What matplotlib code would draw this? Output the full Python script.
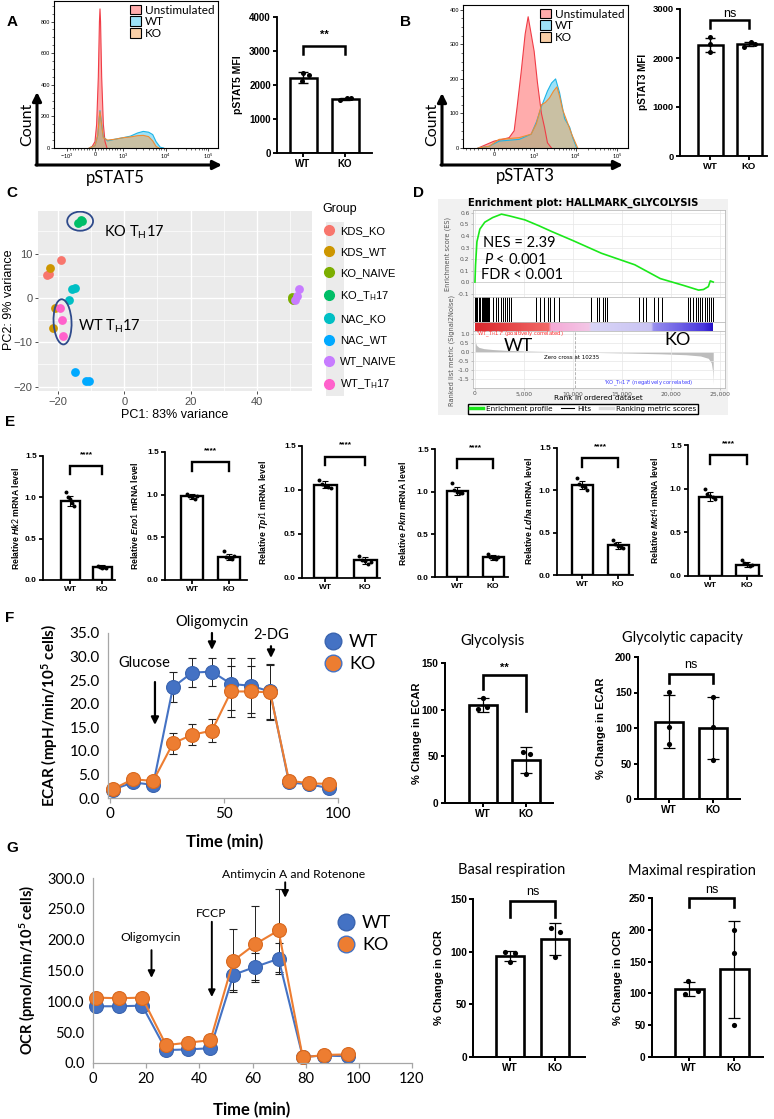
import numpy as np
import matplotlib
matplotlib.use("Agg")
import matplotlib.pyplot as plt
from matplotlib import ticker, font_manager
from matplotlib.colors import to_rgba, LinearSegmentedColormap
from matplotlib.patches import Patch, Ellipse, Rectangle, FancyArrowPatch
from matplotlib.lines import Line2D

W, H = 774, 1119

plt.rcParams["font.family"] = ["Liberation Sans", "DejaVu Sans"]
plt.rcParams["mathtext.fontset"] = "custom"
plt.rcParams["mathtext.rm"] = "Lato"
plt.rcParams["mathtext.bf"] = "Lato:bold"
plt.rcParams["mathtext.it"] = "Liberation Sans:italic:bold"
plt.rcParams["mathtext.sf"] = "Lato:italic"

_names = {f.name for f in font_manager.fontManager.ttflist}
NARROW = "Liberation Sans Narrow" if "Liberation Sans Narrow" in _names else "Liberation Sans"

# ---------------------------------------------------------------------------
# Data
# ---------------------------------------------------------------------------
# A: pSTAT5 flow histograms (fluorescence, count)
a_unstim_x = [-200, -100, 0, 60, 120, 160, 180, 200, 240, 300, 360, 430]
a_unstim_y = [0, 10, 40, 150, 450, 800, 880, 800, 450, 150, 40, 0]
a_wt_x = [-200, 0, 100, 150, 180, 220, 300, 450, 700, 1000, 1500, 2200, 3000, 4000, 5000, 6000, 7500, 9000]
a_wt_y = [0, 15, 80, 190, 237, 180, 70, 45, 55, 65, 75, 95, 105, 100, 85, 40, 5, 0]
a_ko_x = [-200, 0, 100, 150, 180, 220, 300, 450, 700, 1000, 1500, 2200, 3000, 4000, 5000, 6000, 7000]
a_ko_y = [0, 15, 80, 190, 230, 170, 65, 50, 55, 65, 70, 78, 80, 72, 45, 10, 0]

# B: pSTAT3 flow histograms
b_unstim_x = [-400, -200, 0, 200, 375, 500, 575, 675, 775, 850, 925, 1000, 1200, 1500, 1780, 2100, 2630]
b_unstim_y = [0, 10, 20, 25, 30, 50, 120, 220, 330, 380, 330, 280, 190, 100, 60, 15, 0]
b_wt_x = [-400, -125, 125, 625, 925, 1130, 1500, 2100, 2630, 3300, 4120, 5460, 7230, 8550, 10700]
b_wt_y = [0, 5, 20, 25, 40, 75, 120, 165, 188, 200, 160, 85, 60, 30, 0]
b_ko_x = [-400, -125, 125, 625, 925, 1130, 1500, 1870, 2350, 2950, 3550, 4120, 4900, 6110, 8090, 11300]
b_ko_y = [0, 5, 25, 30, 40, 70, 125, 132, 145, 165, 177, 150, 110, 80, 40, 0]

groups = ["WT", "KO"]

# A / B bar charts (MFI)
a_mean = [2220, 1590]
a_sd = [150, 30]
a_pts = [[2340, 2300, 2110], [1570, 1615, 1620]]
b_mean = [2265, 2280]
b_sd = [150, 45]
b_pts = [[2420, 2280, 2120], [2230, 2320, 2290]]

# C: PCA
pca_groups = ["KDS_KO", "KDS_WT", "KO_NAIVE", "KO_T$_{\\mathrm{H}}$17", "NAC_KO", "NAC_WT", "WT_NAIVE", "WT_T$_{\\mathrm{H}}$17"]
pca_colors = ["#F8766D", "#CD9600", "#7CAE00", "#00BE67", "#00BFC4", "#00A9FF", "#C77CFF", "#FF61CC"]
pca_pc1 = [[-19.0, -23.3, -22.6], [-22.3, -20.8, -21.4], [50.6, 50.9, 50.5], [-13.8, -12.6, -13.1],
           [-15.7, -14.8, -16.6], [-14.8, -11.5, -10.6], [52.6, 51.6, 52.0], [-19.3, -18.7, -18.4]]
pca_pc2 = [[8.5, 5.2, 5.5], [6.7, -2.3, -6.8], [0.2, -0.5, -0.2], [17.0, 17.3, 17.6],
           [2.0, 2.2, -0.4], [-16.7, -18.7, -18.8], [2.0, -0.5, 0.5], [-2.3, -4.9, -8.6]]

# D: GSEA HALLMARK_GLYCOLYSIS
es_rank = [0, 60, 200, 500, 1000, 1800, 2700, 3500, 5100, 6500, 7800, 10000, 12900, 16300,
           18900, 21300, 22800, 23300, 23600, 23800, 24000, 24300]
es_val = [0, 0.15, 0.35, 0.46, 0.52, 0.56, 0.59, 0.575, 0.54, 0.49, 0.44, 0.36, 0.25, 0.15,
          0.03, -0.03, -0.07, -0.065, -0.05, -0.04, 0.01, 0.0]
hit_ranks = [20, 60, 110, 150, 210, 260, 330, 400, 470, 540, 610, 700, 790, 880, 960, 1050, 1150,
             1260, 1380, 1500, 1620, 1750, 1900, 2050, 2200, 2380, 2550, 2700, 2900, 3100, 3300,
             3500, 3750, 4000, 4300, 4600, 4900, 5300, 5600, 6000, 6300, 6700, 7100, 7500, 7700,
             8100, 8600, 9000, 9400, 9600, 10200, 10500, 11200, 11900, 12500, 12700, 13100, 13300,
             13500, 14200, 14800, 15300, 16100, 16400, 16800, 17200, 17500, 18300, 18700, 19100,
             19400, 20300, 20600, 20900, 21300, 21500, 21800, 22000, 22300, 22600, 22800, 23000,
             23200, 23500, 23700, 23900, 24100, 24300]
metric_rank = [0, 40, 150, 400, 900, 1800, 3000, 5000, 7500, 10235, 13000, 16000, 19000, 21500,
               23000, 23800, 24100, 24250, 24300]
metric_val = [1.0, 0.6, 0.38, 0.26, 0.19, 0.14, 0.1, 0.06, 0.03, 0.0, -0.03, -0.06, -0.1, -0.15,
              -0.22, -0.35, -0.6, -1.1, -1.8]
zero_cross = 10235
n_genes = 24300

# E: qPCR
e_genes = ["Hk2", "Eno1", "Tpi1", "Pkm", "Ldha", "Mct4"]
e_wt_mean = [0.96, 0.98, 1.06, 1.01, 1.06, 0.91]
e_ko_mean = [0.16, 0.27, 0.20, 0.23, 0.35, 0.13]
e_wt_sd = [0.06, 0.03, 0.04, 0.05, 0.05, 0.05]
e_ko_sd = [0.02, 0.03, 0.04, 0.03, 0.04, 0.03]
e_wt_pts = [[1.06, 1.00, 0.98, 0.93, 0.90], [1.01, 0.99, 0.97, 0.95, 0.98],
            [1.11, 1.07, 1.05, 1.03, 1.02], [1.10, 1.02, 1.00, 0.99, 0.98],
            [1.14, 1.07, 1.05, 1.04, 1.00], [1.00, 0.94, 0.92, 0.90, 0.88]]
e_ko_pts = [[0.17, 0.16, 0.15, 0.16, 0.15], [0.34, 0.27, 0.26, 0.25, 0.28],
            [0.25, 0.21, 0.19, 0.16, 0.18], [0.27, 0.24, 0.22, 0.21, 0.23],
            [0.41, 0.37, 0.34, 0.33, 0.32], [0.18, 0.15, 0.14, 0.12, 0.13]]

# F: ECAR time course
f_time = [1.3, 10.1, 18.9, 27.6, 36.0, 44.7, 53.1, 61.8, 70.2, 78.5, 87.3, 96.1]
f_wt = [1.8, 3.3, 2.8, 23.5, 26.6, 26.8, 24.2, 23.8, 22.6, 3.3, 2.9, 2.1]
f_wt_err = [0.2, 0.3, 0.3, 3.2, 3.0, 3.0, 5.6, 5.8, 5.8, 0.3, 0.3, 0.3]
f_ko = [1.9, 4.0, 3.6, 11.6, 13.4, 14.3, 22.6, 22.6, 22.4, 3.7, 3.1, 3.0]
f_ko_err = [0.2, 0.3, 0.3, 2.2, 2.2, 2.5, 5.5, 5.4, 5.8, 0.3, 0.3, 0.3]

glyc_mean = [105, 46]
glyc_sd = [7.5, 14]
glyc_pts = [[113, 101, 103], [55, 53, 31]]
gcap_mean = [109, 100]
gcap_sd = [37, 44]
gcap_pts = [[151, 101, 77], [143, 101, 55]]

# G: OCR time course
g_time = [1.1, 9.8, 18.5, 27.5, 35.8, 44.2, 52.8, 61.1, 69.8, 78.9, 86.8, 95.8]
g_wt = [92, 92, 93, 21, 22, 24, 143, 156, 169, 10, 12, 11]
g_wt_err = [3, 3, 3, 2, 2, 2, 25, 22, 25, 2, 2, 2]
g_ko = [106, 105, 106, 29, 33, 37, 166, 193, 215, 9, 13, 14]
g_ko_err = [3, 3, 3, 2, 2, 2, 51, 61, 67, 2, 2, 2]

basal_mean = [96, 112]
basal_sd = [5, 15]
basal_pts = [[100, 98.5, 90.5], [122, 119, 95]]
maxr_mean = [107, 138]
maxr_sd = [11, 76]
maxr_pts = [[120, 99, 103], [200, 163, 50]]

WT_BLUE = "#4472C4"
KO_ORANGE = "#ED7D31"

# ---------------------------------------------------------------------------
# Helpers (positions in pixels of the 774x1119 canvas, y from top)
# ---------------------------------------------------------------------------
fig = plt.figure(figsize=(W / 100, H / 100), dpi=100)


def axes_px(x0, y0, x1, y1):
    return fig.add_axes([x0 / W, 1 - y1 / H, (x1 - x0) / W, (y1 - y0) / H])


def ftext(x, y, s, **kw):
    kw.setdefault("ha", "center")
    kw.setdefault("va", "center")
    return fig.text(x / W, 1 - y / H, s, **kw)


def farrow(x0, y0, x1, y1, lw=2.2, ms=13):
    fig.add_artist(FancyArrowPatch((x0 / W, 1 - y0 / H), (x1 / W, 1 - y1 / H),
                                   transform=fig.transFigure, arrowstyle="-|>",
                                   mutation_scale=ms, lw=lw, color="black",
                                   shrinkA=0, shrinkB=0))


# minor tick marks of the flow axes (linear part around 0 and log decades)
flow_minor = ([-s * 100 for s in range(1, 10)] + [s * 100 for s in range(1, 10)]
              + [s * 1000 for s in range(2, 10)] + [s * 10000 for s in range(2, 10)])


def hist_panel(box, series, linscale, xlim, xticks, xlabels, ymax, yticks, yminor):
    ax = axes_px(*box)
    ax.set_xscale("symlog", linthresh=1000, linscale=linscale)
    handles = []
    for xs, ys, fc, ec, lab in series:
        ax.fill(list(xs) + [xs[-1], xs[0]], list(ys) + [0, 0], facecolor=to_rgba(fc, 0.5),
                edgecolor="none")
        ax.plot(xs, ys, color=ec, lw=0.8)
        handles.append(Patch(facecolor=to_rgba(fc, 0.5), edgecolor="black", lw=0.8, label=lab))
    ax.set_xlim(*xlim)
    ax.set_ylim(0, ymax)
    ax.set_xticks(xticks, xlabels)
    ax.xaxis.set_minor_locator(ticker.FixedLocator(flow_minor))
    ax.set_yticks(yticks)
    ax.yaxis.set_minor_locator(ticker.MultipleLocator(yminor))
    ax.tick_params(labelsize=4, length=2, width=0.5, pad=1)
    ax.tick_params(which="minor", length=1.2, width=0.4)
    for s in ax.spines.values():
        s.set_linewidth(0.8)
    ax.legend(handles=handles, loc="upper right", frameon=False, prop={"family": "Lato", "size": 8.5},
              handlelength=0.9, handleheight=0.9, handletextpad=0.35, labelspacing=0.05,
              borderaxespad=0.1, borderpad=0.2)
    return ax


def bar_panel(box, means, sds, pts, offs, ymax, yticks, fmt, bracket, sig,
              tick_fs=7, bar_lw=1.8, sig_fs=8, sig_bold=True, cap=3.5, elw=1.0, dot=13):
    spine, top, end, zero, xw, xk, wpx = box
    ax = axes_px(spine, top, end, zero)
    unit = xk - xw
    ax.set_xlim((spine - xw) / unit, 1 + (end - xk) / unit)
    ax.set_ylim(0, ymax)
    ax.bar([0, 1], means, width=wpx / unit, color="white", edgecolor="black", linewidth=bar_lw, zorder=2)
    ax.errorbar([0, 1], means, yerr=sds, fmt="none", ecolor="black", elinewidth=elw,
                capsize=cap, capthick=elw, zorder=3)
    for i in range(2):
        ax.scatter(np.array(offs[i]) + i, pts[i], s=dot, color="black", zorder=4,
                   clip_on=False, linewidths=0)
    for s in ["top", "right"]:
        ax.spines[s].set_visible(False)
    for s in ["left", "bottom"]:
        ax.spines[s].set_linewidth(bar_lw * 0.75)
    ax.set_xticks([0, 1])
    ax.set_xticklabels(groups, fontweight="bold", fontsize=tick_fs)
    ax.set_yticks(yticks)
    ax.set_yticklabels([fmt.format(v) for v in yticks], fontweight="bold", fontsize=tick_fs)
    ax.tick_params(length=3, width=bar_lw * 0.75, pad=1.5)
    btop, lw_, lk, sy = bracket
    ax.plot([0, 0, 1, 1], [lw_, btop, btop, lk], color="black", lw=bar_lw, clip_on=False,
            solid_joinstyle="miter")
    ax.text(0.5, sy, sig, ha="center", va="center", fontsize=sig_fs,
            fontweight="bold" if sig_bold else "normal", clip_on=False)
    return ax


# ---------------------------------------------------------------------------
# Panel A
# ---------------------------------------------------------------------------
ftext(12, 22, "A", fontsize=11, fontweight="bold")
hist_panel((54, 1, 218, 148),
           [(a_unstim_x, a_unstim_y, "#FF5A5A", "#F03C46", "Unstimulated"),
            (a_wt_x, a_wt_y, "#3CC6F2", "#1EB4E6", "WT"),
            (a_ko_x, a_ko_y, "#F5A050", "#F08C32", "KO")],
           0.59, (-2020, 170000), [-1000, 0, 1000, 10000, 100000],
           ["$-10^3$", "0", "$10^3$", "$10^4$", "$10^5$"], 930, [0, 200, 400, 600, 800], 50)
ftext(27, 124, "Count", rotation=90, family="Lato", fontsize=11.5)
farrow(37, 165, 37, 92)
farrow(36, 165, 222, 165)
ftext(115, 178, "pSTAT5", family="Lato", fontsize=12)

bar_panel((277, 17, 372, 153, 303, 345, 27), a_mean, a_sd, a_pts,
          [[0.0, 0.15, -0.03], [-0.12, 0.05, 0.15]], 4000, [0, 1000, 2000, 3000, 4000], "{:.0f}",
          (3150, 2900, 2900, 3480), "**")
ftext(238, 85, "pSTAT5 MFI", rotation=90, fontweight="bold", fontsize=7.5)

# ---------------------------------------------------------------------------
# Panel B
# ---------------------------------------------------------------------------
ftext(405, 22, "B", fontsize=11, fontweight="bold")
hist_panel((463, 5, 628, 148),
           [(b_unstim_x, b_unstim_y, "#FF5A5A", "#F03C46", "Unstimulated"),
            (b_wt_x, b_wt_y, "#3CC6F2", "#1EB4E6", "WT"),
            (b_ko_x, b_ko_y, "#F5A050", "#F08C32", "KO")],
           0.87, (-780, 186000), [0, 1000, 10000, 100000],
           ["0", "$10^3$", "$10^4$", "$10^5$"], 414, [0, 100, 200, 300, 400], 25)
ftext(432, 124, "Count", rotation=90, family="Lato", fontsize=11.5)
farrow(442, 165, 442, 93)
farrow(441, 165, 623, 165)
ftext(525, 176, "pSTAT3", family="Lato", fontsize=12)

bar_panel((680, 9, 767, 156, 710, 749, 25), b_mean, b_sd, b_pts,
          [[0.0, 0.0, 0.0], [-0.12, 0.05, 0.15]], 3000, [0, 1000, 2000, 3000], "{:.0f}",
          (2780, 2620, 2620, 2900), "ns", tick_fs=6.8, sig_fs=9, sig_bold=False)
ftext(643, 82, "pSTAT3 MFI", rotation=90, fontweight="bold", fontsize=7.2)

# ---------------------------------------------------------------------------
# Panel C: PCA
# ---------------------------------------------------------------------------
ftext(12, 193, "C", fontsize=11, fontweight="bold")
axc = axes_px(38, 211, 312, 391)
axc.set_facecolor("#EBEBEB")
for xs, ys, col in zip(pca_pc1, pca_pc2, pca_colors):
    axc.scatter(xs, ys, s=40, color=col, linewidths=0, zorder=3)
axc.set_xlim(-26, 56.6)
axc.set_ylim(-21.0, 19.6)
axc.set_xticks([-20, 0, 20, 40])
axc.set_yticks([-20, -10, 0, 10])
axc.set_xticks([-10, 10, 30, 50], minor=True)
axc.set_yticks([-15, -5, 5, 15], minor=True)
axc.grid(which="major", color="white", lw=1.0, zorder=0)
axc.grid(which="minor", color="white", lw=0.5, zorder=0)
axc.set_axisbelow(True)
for s in axc.spines.values():
    s.set_visible(False)
axc.tick_params(labelsize=8, labelcolor="#4D4D4D", color="#333333", length=2.5, width=0.6, pad=1.5)
axc.tick_params(which="minor", length=0)
for lab in axc.get_xticklabels() + axc.get_yticklabels():
    lab.set_family(NARROW)
axc.add_patch(Ellipse((-13.3, 17.3), 7.8, 4.3, fill=False, edgecolor="#2E4A8B", lw=1.3, zorder=4))
axc.add_patch(Ellipse((-18.6, -5.4), 5.4, 10.2, angle=4, fill=False, edgecolor="#2E4A8B", lw=1.3, zorder=4))
axc.text(-6.0, 14.8, "KO T$_{\\mathrm{H}}$17", family="Lato", fontsize=10.5, va="center")
axc.text(-13.8, -6.5, "WT T$_{\\mathrm{H}}$17", family="Lato", fontsize=10.5, va="center")
ftext(175, 415, "PC1: 83% variance", family=NARROW, fontsize=9)
ftext(9, 300, "PC2: 9% variance", family=NARROW, fontsize=9, rotation=90)
fig.add_artist(Rectangle((326 / W, 1 - 396 / H), 18 / W, 174 / H, transform=fig.transFigure,
                         facecolor="#EBEBEB", edgecolor="none", zorder=0))
pca_handles = [Line2D([], [], ls="none", marker="o", ms=7, mfc=c, mec=c) for c in pca_colors]
fig.legend(pca_handles, pca_groups, title="Group", loc="upper left",
           bbox_to_anchor=(322 / W, 1 - 203 / H), frameon=False,
           prop={"family": NARROW, "size": 8}, title_fontproperties={"family": NARROW, "size": 9},
           labelspacing=1.0, handletextpad=0.4, handlelength=1.2, alignment="left",
           borderaxespad=0, borderpad=0)

# ---------------------------------------------------------------------------
# Panel D: GSEA
# ---------------------------------------------------------------------------
ftext(418, 193, "D", fontsize=11, fontweight="bold")
fig.add_artist(Rectangle((438 / W, 1 - 415 / H), 290 / W, 216 / H, transform=fig.transFigure,
                         facecolor="#F1F1F1", edgecolor="none", zorder=0))
ftext(583, 203, "Enrichment plot: HALLMARK_GLYCOLYSIS", family="DejaVu Sans",
      fontweight="bold", fontsize=7.2)
GSEA_X = (-200, 25500)


def gsea_axes(box):
    ax = axes_px(*box)
    ax.set_xlim(*GSEA_X)
    for s in ax.spines.values():
        s.set_color("#BBBBBB")
        s.set_linewidth(0.6)
    ax.tick_params(labelsize=4.3, labelcolor="#555555", color="#999999", length=1.5, width=0.4, pad=1)
    return ax


ax_es = gsea_axes((473, 210, 725, 297))
ax_es.plot(es_rank, es_val, color="#1BE81B", lw=1.2, zorder=3)
ax_es.set_ylim(-0.13, 0.626)
ax_es.set_yticks([-0.1, 0.0, 0.1, 0.2, 0.3, 0.4, 0.5, 0.6])
ax_es.set_yticklabels(["-0.1", "0.0", "0.1", "0.2", "0.3", "0.4", "0.5", "0.6"], family="DejaVu Sans")
ax_es.set_xticks([0, 5000, 10000, 15000, 20000, 25000], [])
ax_es.tick_params(axis="x", length=0)
ax_es.grid(color="#E6E6E6", lw=0.5)
ax_es.axhline(0, color="#C8C8C8", lw=0.5)

# hits panel: one thin bar per gene-set member
ax_hit = gsea_axes((473, 297, 725, 322))
ax_hit.bar(hit_ranks, [1] * len(hit_ranks), width=55, bottom=0, color="black", linewidth=0,
           align="center")
ax_hit.set_xlim(*GSEA_X)
ax_hit.set_ylim(0, 1)
ax_hit.set_xticks([])
ax_hit.set_yticks([])

# ranked-list colour bar
ax_cb = gsea_axes((473, 322, 725, 331))
cb_cmap = LinearSegmentedColormap.from_list("rank", [
    (0.0, "#D9262C"), (0.31, "#F26A68"), (0.32, "#F5A9D6"), (0.48, "#F3C6E6"),
    (0.49, "#D8D4F6"), (0.74, "#C9C3F3"), (0.75, "#968DEE"), (0.96, "#4A38DD"), (1.0, "#2612C8")])
cb_edges = np.linspace(0, n_genes, 257)
ax_cb.pcolormesh(cb_edges, [0, 1], np.linspace(0, 1, 256)[None, :], cmap=cb_cmap, shading="flat")
ax_cb.set_xlim(*GSEA_X)
ax_cb.set_ylim(0, 1)
ax_cb.set_xticks([])
ax_cb.set_yticks([])

ax_m = gsea_axes((473, 331, 725, 388))
ax_m.fill_between(metric_rank, metric_val, 0, color="#BDBDBD", lw=0)
ax_m.axvline(zero_cross, color="#AAAAAA", lw=0.6, ls="--")
ax_m.set_ylim(-2.0, 1.17)
ax_m.set_yticks([-1.5, -1.0, -0.5, 0.0, 0.5, 1.0])
ax_m.set_yticklabels(["-1.5", "-1.0", "-0.5", "0.0", "0.5", "1.0"], family="DejaVu Sans")
ax_m.set_xticks([0, 5000, 10000, 15000, 20000, 25000])
ax_m.set_xticklabels(["0", "5,000", "10,000", "15,000", "20,000", "25,000"], family="DejaVu Sans")
ax_m.grid(color="#E6E6E6", lw=0.5)

ftext(598, 398, "Rank in ordered dataset", family="DejaVu Sans", fontsize=5.3)
ftext(448, 254, "Enrichment score (ES)", family="DejaVu Sans", fontsize=4.8, rotation=90, color="#555555")
ftext(452, 350, "Ranked list metric (Signal2Noise)", family="DejaVu Sans", fontsize=4.8,
      rotation=90, color="#555555")
ftext(476, 334, "'WT_T$_{\\mathrm{H}}$17' (positively correlated)", family="DejaVu Sans",
      fontsize=3.8, color="#FF3030", ha="left")
ftext(693, 383, "'KO_T$_{\\mathrm{H}}$17' (negatively correlated)", family="DejaVu Sans",
      fontsize=3.8, color="#4040FF", ha="right")
ftext(572, 358, "Zero cross at %d" % zero_cross, family="DejaVu Sans", fontsize=4)
ftext(483, 243, "NES = 2.39", family="Lato", fontsize=10.5, ha="left")
ftext(484, 260, "$\\mathsf{P}$ < 0.001", family="Lato", fontsize=10.5, ha="left")
ftext(481, 275, "FDR < 0.001", family="Lato", fontsize=10.5, ha="left")
ftext(518, 346, "WT", family="Lato", fontsize=13)
ftext(678, 340, "KO", family="Lato", fontsize=13)
fig.legend([Line2D([], [], color="#1BE81B", lw=2.5), Line2D([], [], color="black", lw=0.8),
            Line2D([], [], color="#DDDDDD", lw=2.5)],
           ["Enrichment profile", "Hits", "Ranking metric scores"], ncol=3, loc="center",
           bbox_to_anchor=(583 / W, 1 - 409 / H), prop={"family": "DejaVu Sans", "size": 5.2},
           frameon=True, fancybox=False, edgecolor="black", borderpad=0.25, columnspacing=1.2,
           handlelength=1.8, handletextpad=0.4, framealpha=1)

# ---------------------------------------------------------------------------
# Panel E: qPCR bars
# ---------------------------------------------------------------------------
ftext(10, 422, "E", fontsize=11, fontweight="bold")
e_boxes = [(43, 456, 115, 580, 70, 102, 19), (165, 452, 247, 580, 192, 229, 22),
           (302, 446, 380, 578, 325, 365, 23), (435, 449, 508, 577, 457, 493, 21),
           (557, 448, 633, 575, 582, 618, 21), (688, 445, 762, 576, 710, 747, 23)]
e_label_x = [16, 135, 263, 402, 529, 654]
five = [[-0.14, -0.07, 0.0, 0.07, 0.14], [-0.14, -0.07, 0.0, 0.07, 0.14]]
for i, gene in enumerate(e_genes):
    bar_panel(e_boxes[i], [e_wt_mean[i], e_ko_mean[i]], [e_wt_sd[i], e_ko_sd[i]],
              [e_wt_pts[i], e_ko_pts[i]], five, 1.5, [0.0, 0.5, 1.0, 1.5], "{:.1f}",
              (1.38, 1.28, 1.28, 1.52), "****", tick_fs=6, bar_lw=1.7, sig_fs=6, cap=2.5,
              elw=0.8, dot=8)
    top, zero = e_boxes[i][1], e_boxes[i][3]
    ftext(e_label_x[i], (top + zero) / 2, "Relative $\\mathit{%s}$ mRNA level" % gene,
          rotation=90, fontweight="bold", fontsize=6.2)

# ---------------------------------------------------------------------------
# Panel F: ECAR
# ---------------------------------------------------------------------------
ftext(10, 618, "F", fontsize=11, fontweight="bold")


def seahorse_axes(box, xlim, ylim, xticks, yticks):
    ax = axes_px(*box)
    ax.set_xlim(*xlim)
    ax.set_ylim(*ylim)
    ax.set_xticks(xticks)
    ax.set_yticks(yticks)
    ax.set_yticklabels(["%.1f" % v for v in yticks])
    for s in ["top", "right"]:
        ax.spines[s].set_visible(False)
    for s in ["left", "bottom"]:
        ax.spines[s].set_color("#A6A6A6")
        ax.spines[s].set_linewidth(0.9)
    ax.tick_params(labelsize=11, length=3.5, color="#A6A6A6", width=0.9, pad=3)
    ax.tick_params(axis="y", length=0, pad=6)
    for lab in ax.get_xticklabels() + ax.get_yticklabels():
        lab.set_family("Lato")
    return ax


def seahorse_series(ax, t, y, err, face, edge):
    ax.errorbar(t, y, yerr=err, fmt="-o", color=face, lw=1.5, ms=10, mfc=face, mec=edge,
                mew=0.8, ecolor="#222222", elinewidth=0.7, capsize=3, capthick=0.7, clip_on=False)


axf = seahorse_axes((108, 633, 338, 798), (-0.9, 100), (0, 35), [0, 50, 100],
                    [0, 5, 10, 15, 20, 25, 30, 35])
seahorse_series(axf, f_time, f_wt, f_wt_err, WT_BLUE, "#3A64AF")
seahorse_series(axf, f_time, f_ko, f_ko_err, KO_ORANGE, "#D9691F")
arrow_kw = dict(arrowstyle="-|>", color="black", lw=1.6, mutation_scale=11, shrinkA=0, shrinkB=0)
axf.annotate("", xy=(19.7, 15.5), xytext=(19.7, 24.6), arrowprops=arrow_kw, annotation_clip=False)
axf.annotate("", xy=(44.7, 31.4), xytext=(44.7, 35.0), arrowprops=arrow_kw, annotation_clip=False)
axf.annotate("", xy=(70.6, 29.7), xytext=(70.6, 32.2), arrowprops=arrow_kw, annotation_clip=False)
axf.text(14.9, 28.6, "Glucose", family="Lato", fontsize=10.5, ha="center", va="center")
axf.text(44.7, 37.3, "Oligomycin", family="Lato", fontsize=10.5, ha="center", va="center", clip_on=False)
axf.text(70.6, 34.6, "2-DG", family="Lato", fontsize=10.5, ha="center", va="center", clip_on=False)
ftext(50, 715, "ECAR (mpH/min/10$^{\\mathbf{5}}$ cells)", rotation=90, family="Lato",
      fontweight="bold", fontsize=11)
ftext(225, 842, "Time (min)", family="Lato", fontweight="bold", fontsize=12)
sea_handles = [Line2D([], [], ls="none", marker="o", ms=12, mfc=WT_BLUE, mec="#3A64AF"),
               Line2D([], [], ls="none", marker="o", ms=12, mfc=KO_ORANGE, mec="#4472C4")]
fig.legend(sea_handles, groups, loc="upper left", bbox_to_anchor=(313 / W, 1 - 625 / H),
           frameon=False, prop={"family": "Lato", "size": 13}, handletextpad=0.3,
           labelspacing=0.35, handlelength=1.2, borderpad=0)

bar_panel((445, 663, 553, 803, 483, 526, 28), glyc_mean, glyc_sd, glyc_pts,
          [[0.0, -0.12, 0.09], [-0.07, 0.1, 0.0]], 150, [0, 50, 100, 150], "{:.0f}",
          (137, 122, 99, 145), "**", tick_fs=7.3, bar_lw=1.9, sig_fs=8, cap=4, elw=0.9, dot=14)
ftext(493, 641, "Glycolysis", family="Lato", fontsize=10.5)
ftext(417, 733, "% Change in ECAR", rotation=90, fontweight="bold", fontsize=8)

bar_panel((638, 657, 740, 799, 669, 713, 28), gcap_mean, gcap_sd, gcap_pts,
          [[0.0, 0.0, 0.0], [0.0, 0.0, 0.0]], 200, [0, 50, 100, 150, 200], "{:.0f}",
          (176, 163, 163, 189), "ns", tick_fs=7.3, bar_lw=1.9, sig_fs=9, sig_bold=False,
          cap=4, elw=0.9, dot=14)
ftext(682, 638, "Glycolytic capacity", family="Lato", fontsize=10.5)
ftext(601, 728, "% Change in ECAR", rotation=90, fontweight="bold", fontsize=8)

# ---------------------------------------------------------------------------
# Panel G: OCR
# ---------------------------------------------------------------------------
ftext(12, 848, "G", fontsize=11, fontweight="bold")
axg = seahorse_axes((93, 878, 412, 1063), (0, 120), (0, 300), [0, 20, 40, 60, 80, 100, 120],
                    [0, 50, 100, 150, 200, 250, 300])
axg.tick_params(labelsize=10.5)
seahorse_series(axg, g_time, g_wt, g_wt_err, WT_BLUE, "#3A64AF")
seahorse_series(axg, g_time, g_ko, g_ko_err, KO_ORANGE, "#D9691F")
arrow_kw2 = dict(arrowstyle="-|>", color="black", lw=1.4, mutation_scale=10, shrinkA=0, shrinkB=0)
axg.annotate("", xy=(22, 138), xytext=(22, 183), arrowprops=arrow_kw2, annotation_clip=False)
axg.annotate("", xy=(44.7, 107), xytext=(44.7, 229), arrowprops=arrow_kw2, annotation_clip=False)
axg.annotate("", xy=(72.3, 268), xytext=(72.3, 293), arrowprops=arrow_kw2, annotation_clip=False)
axg.text(21.6, 204, "Oligomycin", family="Lato", fontsize=8.7, ha="center", va="center")
axg.text(44.3, 242, "FCCP", family="Lato", fontsize=8.7, ha="center", va="center")
axg.text(75.3, 306, "Antimycin A and Rotenone", family="Lato", fontsize=8.7, ha="center",
         va="center", clip_on=False)
ftext(28, 970, "OCR (pmol/min/10$^{\\mathbf{5}}$ cells)", rotation=90, family="Lato",
      fontweight="bold", fontsize=10.5)
ftext(252, 1110, "Time (min)", family="Lato", fontweight="bold", fontsize=12)
fig.legend(sea_handles, groups, loc="upper left", bbox_to_anchor=(326 / W, 1 - 906 / H),
           frameon=False, prop={"family": "Lato", "size": 13}, handletextpad=0.3,
           labelspacing=0.35, handlelength=1.2, borderpad=0)

bar_panel((473, 899, 585, 1057, 510, 555, 28), basal_mean, basal_sd, basal_pts,
          [[-0.12, 0.12, 0.0], [-0.1, 0.12, 0.0]], 150, [0, 50, 100, 150], "{:.0f}",
          (148, 133, 133, 157), "ns", tick_fs=7.3, bar_lw=1.9, sig_fs=9, sig_bold=False,
          cap=4, elw=0.9, dot=14)
ftext(512, 870, "Basal respiration", family="Lato", fontsize=10.5)
ftext(439, 978, "% Change in OCR", rotation=90, fontweight="bold", fontsize=8)

bar_panel((652, 898, 763, 1057, 689, 734, 29), maxr_mean, maxr_sd, maxr_pts,
          [[-0.03, -0.1, 0.2], [0.0, 0.0, 0.0]], 250, [0, 50, 100, 150, 200, 250], "{:.0f}",
          (250, 236, 236, 263), "ns", tick_fs=7.3, bar_lw=1.9, sig_fs=9, sig_bold=False,
          cap=4, elw=0.9, dot=14)
ftext(692, 871, "Maximal respiration", family="Lato", fontsize=10.5)
ftext(618, 978, "% Change in OCR", rotation=90, fontweight="bold", fontsize=8)

fig.savefig("out.png", dpi=100)
